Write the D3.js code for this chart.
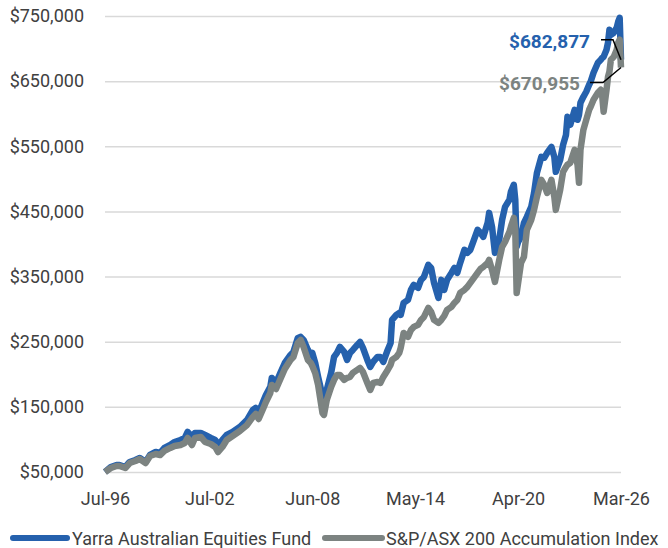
<!DOCTYPE html>
<html>
<head>
<meta charset="utf-8">
<script src="https://cdn.jsdelivr.net/npm/d3@7"></script>
<style>
  body { margin: 0; background: #fff; }
  text { font-family: Roboto, "Noto Sans", sans-serif; }
</style>
</head>
<body>
<script>
// month-end values
const months = [
  "1996-07","1996-11","1997-03","1997-05","1997-09","1997-12","1998-04","1998-07","1998-11","1999-02",
  "1999-06","1999-09","1999-12","2000-04","2000-07","2000-11","2001-02","2001-04","2001-07","2001-09",
  "2002-01","2002-04","2002-08","2002-11","2003-01","2003-04","2003-07","2003-11","2004-04","2004-09",
  "2005-01","2005-03","2005-05","2005-08","2005-10","2006-01","2006-02","2006-05","2006-08","2006-11",
  "2007-03","2007-05","2007-08","2007-10","2007-12","2008-03","2008-05","2008-06","2008-08","2008-10",
  "2009-01","2009-02","2009-04","2009-07","2009-09","2009-11","2010-01","2010-04","2010-06","2010-08",
  "2010-10","2011-01","2011-03","2011-05","2011-08","2011-10","2011-12","2012-03","2012-05","2012-07",
  "2012-10","2012-12","2013-01","2013-04","2013-06","2013-07","2013-09","2013-12","2014-02","2014-04",
  "2014-07","2014-09","2014-11","2015-02","2015-04","2015-06","2015-09","2015-11","2016-01","2016-03",
  "2016-06","2016-08","2016-10","2016-12","2017-03","2017-05","2017-07","2017-09","2017-12","2018-02",
  "2018-04","2018-07","2018-08","2018-10","2018-12","2019-03","2019-05","2019-07","2019-10","2019-11",
  "2020-01","2020-02","2020-03","2020-04","2020-06","2020-08","2020-10","2021-01","2021-03","2021-05",
  "2021-08","2021-10","2021-12","2022-03","2022-05","2022-06","2022-09","2022-11","2023-01","2023-02",
  "2023-04","2023-07","2023-09","2023-10","2023-11","2024-01","2024-03","2024-05","2024-06","2024-08",
  "2024-11","2025-01","2025-02","2025-03","2025-05","2025-06","2025-07","2025-08","2025-10","2025-12",
  "2026-01","2026-02","2026-03"
];

const fund = [
  50000,57700,60800,60800,57700,65400,68400,71500,65400,76100,
  80700,79200,86900,91500,96100,99200,102200,111400,103800,109900,
  109900,106800,102200,99200,89900,99200,106800,111400,119100,129900,
  145200,148300,140600,157500,168300,180600,194400,186700,202100,217400,
  229700,234300,255800,257400,252800,237400,229700,232800,217400,195900,
  166700,163700,176000,202100,226600,232800,242000,234300,222000,232800,
  237400,245100,249700,240500,222000,211300,219000,226600,226600,219000,
  237400,248100,283500,291200,294200,291200,309600,314200,329600,337200,
  332600,344900,349500,367900,363300,340300,317300,344900,329600,344900,
  355700,363300,355700,371000,391000,386400,391000,403300,421700,417100,
  411000,432500,447800,426300,386400,406400,437100,457000,467800,480100,
  490800,467800,395600,403300,411000,432500,441700,457000,478500,509300,
  533800,532300,540000,549200,533800,510800,529200,552300,567600,595300,
  583000,606000,590700,598400,616800,626000,633700,644400,649000,662900,
  678200,682900,685900,687400,698200,708900,728900,721200,724300,732000,
  741200,747300,682877
];

const index = [
  50000,56100,59200,59200,56100,63800,66900,70000,63800,74600,
  77600,76100,82300,86900,89900,91500,94500,102200,91500,102200,
  103800,96100,93000,88400,80700,88400,99200,105300,113000,122200,
  134500,139100,131400,146800,157500,171300,183600,177500,192800,208200,
  222000,226600,248100,252800,242000,222000,217400,212800,202100,183600,
  140600,137600,160600,180600,191300,199000,199000,191300,194400,195900,
  202100,206700,209700,203600,186700,176000,186700,188200,186700,195900,
  206700,214400,222000,226600,232800,240500,263500,257400,268100,272700,
  275800,283500,288100,301900,295800,283500,278900,283500,289600,298800,
  303400,309600,314200,324900,329600,334200,340300,346400,355700,361800,
  364900,371000,375600,360300,341800,375600,395600,403300,418600,426300,
  440100,421700,324900,340300,371000,380200,421700,437100,452400,472400,
  498500,490800,478500,498500,472400,452400,483200,510800,518500,521600,
  524600,544600,521600,493900,544600,575300,590700,606000,610600,621400,
  632100,636800,626000,603000,636800,656700,664400,682900,687400,698200,
  708900,713600,670955
];

const yTicks = [50000, 150000, 250000, 350000, 450000, 550000, 650000, 750000];
const xTicks = ["1996-07", "2002-07", "2008-06", "2014-05", "2020-04", "2026-03"];
const seriesNames = ["Yarra Australian Equities Fund", "S&P/ASX 200 Accumulation Index"];
const seriesColors = ["#2561ad", "#7c8381"];

const parseMonth = d3.timeParse("%Y-%m");
const fmtMoney = d3.format("$,.0f");

const width = 668, height = 548;
const margin = {top: 16, right: 47, bottom: 76, left: 105};

const svg = d3.select("body")
  .append("svg")
  .attr("width", width)
  .attr("height", height)

const xScale = d3.scaleTime()
  .domain([parseMonth(months[0]), parseMonth(months[months.length - 1])])
  .range([margin.left, width - margin.right]);

const yScale = d3.scaleLinear()
  .domain([50000, 750000])
  .range([height - margin.bottom, margin.top]);

// gridlines + y labels
const yAxis = d3.axisLeft(yScale)
  .tickValues(yTicks)
  .tickSize(-(width - margin.right - margin.left))
  .tickPadding(21)
  .tickFormat(fmtMoney);

svg.append("g")
  .attr("transform", `translate(${margin.left}, 0)`)
  .call(yAxis)
  .call(g => g.select(".domain").remove())
  .call(g => g.selectAll(".tick line").attr("stroke", "#d9d9d9").attr("stroke-width", 1.5))
  .call(g => g.selectAll(".tick text")
    .attr("fill", "#404040")
    .style("font-size", "18px")
    .style("font-family", "Roboto"));

const xAxis = d3.axisBottom(xScale)
  .tickValues(xTicks.map(parseMonth))
  .tickSize(0)
  .tickPadding(20)
  .tickFormat(d3.timeFormat("%b-%y"));

svg.append("g")
  .attr("transform", `translate(0, ${height - margin.bottom})`)
  .call(xAxis)
  .call(g => g.select(".domain").remove())
  .call(g => g.selectAll(".tick text")
    .attr("fill", "#404040")
    .style("font-size", "18px")
    .style("font-family", "Roboto"));

const series = [fund, index].map((vals, i) => ({
  name: seriesNames[i],
  color: seriesColors[i],
  values: vals.map((v, j) => ({date: parseMonth(months[j]), value: v}))
}));

const valueLine = d3.line()
  .x(d => xScale(d.date))
  .y(d => yScale(d.value));

svg.selectAll("path.series")
  .data(series)
  .enter()
  .append("path")
  .attr("class", "series")
  .attr("fill", "none")
  .attr("stroke", d => d.color)
  .attr("stroke-width", 6.5)
  .attr("stroke-linejoin", "round")
  .attr("d", d => valueLine(d.values));

// end value callouts
const callouts = [
  {s: series[0], dx: -20, len: 12, dy: -20, ty: 48, tx: 590},
  {s: series[1], dx: -31, len: 13, dy: 15, ty: 90, tx: 580}
];

callouts.forEach(c => {
  const last = c.s.values[c.s.values.length - 1];
  const ex = xScale(last.date), ey = yScale(last.value);
  const ly = ey + c.dy;
  svg.append("path")
    .attr("fill", "none")
    .attr("stroke", "#000")
    .attr("stroke-width", 1.5)
    .attr("d", `M${ex + c.dx},${ly}L${ex + c.dx + c.len},${ly}L${ex},${ey}`);
  svg.append("text")
    .attr("x", c.tx)
    .attr("y", c.ty)
    .attr("text-anchor", "end")
    .attr("fill", c.s.color)
    .style("font-size", "19px")
    .style("font-weight", "bold")
    .text(fmtMoney(last.value));
});

// legend
const legendPos = [{x1: 13, x2: 67, tx: 72}, {x1: 325, x2: 382, tx: 386}];

const legend = svg.selectAll("g.legend")
  .data(series)
  .enter()
  .append("g")
  .attr("class", "legend");

legend.append("line")
  .attr("x1", (d, i) => legendPos[i].x1)
  .attr("x2", (d, i) => legendPos[i].x2)
  .attr("y1", 538)
  .attr("y2", 538)
  .attr("stroke", d => d.color)
  .attr("stroke-width", 6)
  .attr("stroke-linecap", "round");

legend.append("text")
  .attr("x", (d, i) => legendPos[i].tx)
  .attr("y", 545)
  .attr("fill", "#404040")
  .style("font-size", "18px")
  .text(d => d.name);
</script>
</body>
</html>
